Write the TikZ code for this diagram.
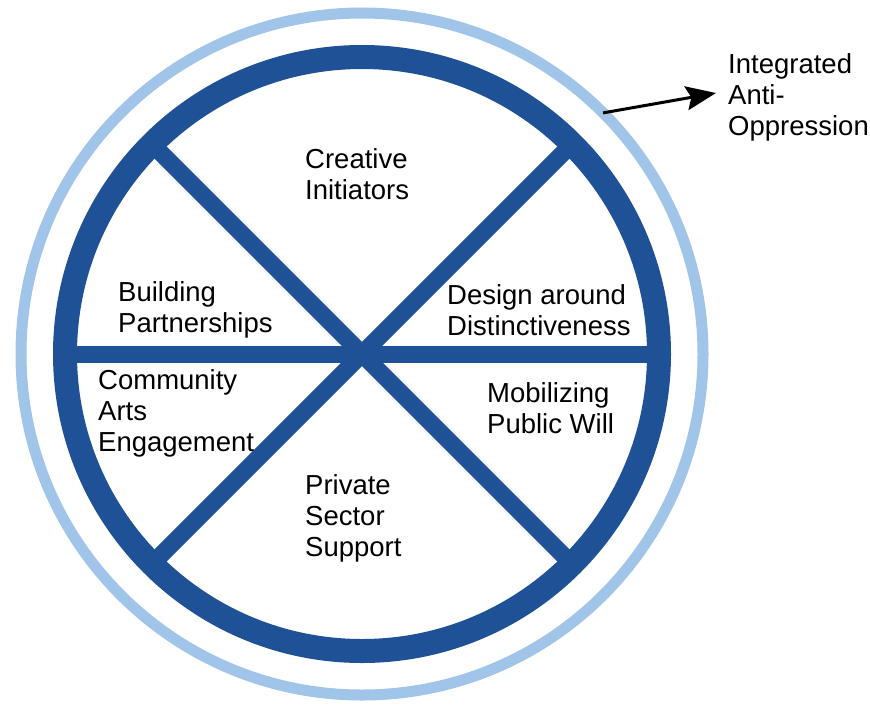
\documentclass[tikz,border=0pt]{standalone}
\usepackage{fontspec}
\setmainfont{Liberation Sans}
\usepackage{tikz}
\usetikzlibrary{calc,arrows.meta}

\definecolor{wheelblue}{RGB}{31,81,150}
\definecolor{ringblue}{RGB}{160,197,232}

\tikzset{
  lab/.style={anchor=west,align=left,inner sep=0pt,
    font=\fontsize{27.5}{31}\selectfont},
  spoke/.style={wheelblue,line width=17pt}
}

\begin{document}
\begin{tikzpicture}[x=1pt,y=-1pt]
  \path[use as bounding box] (0,0) rectangle (870,705);
  \coordinate (O) at (362,354);
  % outer ring and wheel
  \draw [ringblue][line width=11pt](O) circle[radius=341];
  \foreach\a in {0,45,135}
    \draw [spoke](O)++(\a:297)--($(O)+(\a+180:297)$);
  \draw [wheelblue][line width=24pt](O) circle[radius=297];
  % labels
  \node [lab] (ci) at (305,174) {Creative\\Initiators};
  \node [lab] (bp) at (118,310) {Building\\Partnerships};
  \node [lab] (dd) at (447,310) {Design around\\Distinctiveness};
  \node [lab] (ca) at (98,413) {Community\\Arts\\Engagement};
  \node [lab] (mp) at (487,408) {Mobilizing\\Public Will};
  \node [lab] (ps) at (305,518) {Private\\Sector\\Support};
  \node [lab] (ia) at (728,97) {Integrated\\Anti-\\Oppression};
  \coordinate (R) at ($(O)+(-45:341)$);
  \draw [black][line width=3pt][-{Stealth[length=30pt,width=24pt,inset=5pt]}]
    (R)--([xshift=-12pt,yshift=4pt]ia.west);
\end{tikzpicture}
\end{document}
